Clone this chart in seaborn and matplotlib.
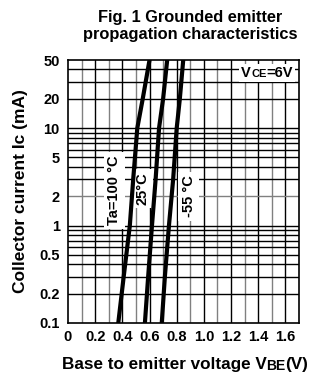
import matplotlib
matplotlib.use("Agg")
import matplotlib.pyplot as plt
import seaborn as sns
import pandas as pd
import numpy as np
from matplotlib.offsetbox import TextArea, HPacker, AnchoredOffsetbox

# ---- data ----
ic_ma = [0.1, 0.3, 1, 3, 10, 20, 50]
vbe_100 = [0.37, 0.41, 0.455, 0.48, 0.51, 0.55, 0.60]
vbe_25 = [0.566, 0.59, 0.618, 0.645, 0.67, 0.70, 0.73]
vbe_m55 = [0.69, 0.713, 0.743, 0.774, 0.80, 0.823, 0.848]
series_names = ["Ta=100 °C", "25°C", "-55 °C"]
x_ticks = [0, 0.2, 0.4, 0.6, 0.8, 1.0, 1.2, 1.4, 1.6]
x_tick_labels = ["0", "0.2", "0.4", "0.6", "0.8", "1.0", "1.2", "1.4", "1.6"]
y_ticks = [0.1, 0.2, 0.5, 1, 2, 5, 10, 20, 50]
y_tick_labels = ["0.1", "0.2", "0.5", "1", "2", "5", "10", "20", "50"]

df = pd.concat([
    pd.DataFrame({"vbe": vbe_100, "ic": ic_ma, "T": series_names[0]}),
    pd.DataFrame({"vbe": vbe_25, "ic": ic_ma, "T": series_names[1]}),
    pd.DataFrame({"vbe": vbe_m55, "ic": ic_ma, "T": series_names[2]}),
])

sns.set_theme(style="white")
plt.rcParams["font.family"] = ["Liberation Sans", "DejaVu Sans"]
plt.rcParams["font.weight"] = "bold"
plt.rcParams["text.color"] = "black"
plt.rcParams["axes.labelcolor"] = "black"
plt.rcParams["xtick.color"] = "black"
plt.rcParams["ytick.color"] = "black"

fig = plt.figure(figsize=(3.23, 3.81), dpi=100)
ax = fig.add_axes([68 / 323, 1 - 323 / 381, (299 - 68) / 323, (323 - 60) / 381])

ax.set_yscale("log")
ax.set_xlim(0, 1.7)
ax.set_ylim(0.1, 50)

# grid lines
for i in range(1, 17):
    v = i / 10
    ax.axvline(v, color="black" if i % 2 == 0 else "#808080", lw=1.0, zorder=1)
for dec in [0.1, 1, 10]:
    for m in range(1, 10):
        v = dec * m
        if v <= 0.1 or v >= 50:
            continue
        col = "#808080" if v in (0.3, 2) else "black"
        ax.axhline(v, color=col, lw=1.0, zorder=1)

sns.lineplot(data=df, x="vbe", y="ic", hue="T", palette=["black"] * 3,
             lw=3.0, legend=False, ax=ax, zorder=6, sort=True)

for s in ax.spines.values():
    s.set_color("black")
    s.set_linewidth(1.2)
    s.set_zorder(7)

ax.set_xticks(x_ticks)
ax.set_xticklabels(x_tick_labels, fontsize=10.5, fontweight="bold")
ax.set_yticks(y_ticks)
ax.set_yticklabels(y_tick_labels, fontsize=10.5, fontweight="bold")
ax.minorticks_off()
ax.tick_params(axis="y", length=0, pad=6)
ax.tick_params(axis="x", length=0, pad=5)
ax.set_xlabel("")
ax.set_ylabel("Collector current Ic (mA)", fontsize=12.5, fontweight="bold", labelpad=8)

# temperature labels
bb = dict(facecolor="white", edgecolor="none", pad=2.5)
ax.text(0.34, 2.3, series_names[0], rotation=90, ha="center", va="center",
        fontsize=10.5, fontweight="bold", bbox=bb, zorder=4)
ax.text(0.55, 2.4, series_names[1], rotation=90, ha="center", va="center",
        fontsize=10.5, fontweight="bold", bbox=bb, zorder=4)
ax.text(0.89, 2.0, series_names[2], rotation=90, ha="center", va="center",
        fontsize=10.5, fontweight="bold", bbox=bb, zorder=4)

# VCE=6V label
def packed(parts):
    boxes = [TextArea(t, textprops=dict(fontsize=fs, fontweight="bold", color="black"))
             for t, fs in parts]
    return HPacker(children=boxes, align="baseline", pad=0, sep=0)

vce = AnchoredOffsetbox(loc="upper right", child=packed([("V", 10.5), ("CE", 8), ("=6V", 10.5)]),
                        pad=0.15, borderpad=0.25, frameon=True,
                        bbox_to_anchor=(1.0, 1.0), bbox_transform=ax.transAxes)
vce.patch.set_facecolor("white")
vce.patch.set_edgecolor("none")
vce.set_zorder(5)
ax.add_artist(vce)

# x label
xl = AnchoredOffsetbox(loc="center", child=packed([("Base to emitter voltage V", 12.3),
                                                    ("BE", 10), ("(V)", 12.3)]),
                       pad=0, borderpad=0, frameon=False,
                       bbox_to_anchor=(185 / 323, 1 - 365 / 381), bbox_transform=fig.transFigure)
fig.add_artist(xl)

fig.text(190 / 323, 1 - 26 / 381, "Fig. 1 Grounded emitter\npropagation characteristics",
         ha="center", va="center", fontsize=11.8, fontweight="bold", linespacing=1.15)

fig.savefig("out.png", dpi=100)
